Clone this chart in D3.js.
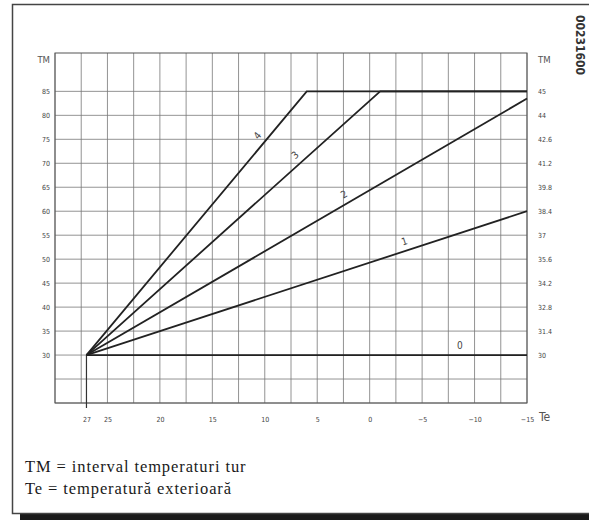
<!DOCTYPE html>
<html>
<head>
<meta charset="utf-8">
<script src="https://cdn.jsdelivr.net/npm/d3@7"></script>
<style>
  body { margin: 0; background: #fff; }
  svg { display: block; }
  .tick-lbl { font-family: "DejaVu Sans Condensed", "Liberation Sans Narrow", sans-serif; font-size: 7px; fill: #444; }
  .legend { font-family: "Liberation Serif", "DejaVu Serif", serif; font-size: 16.5px; letter-spacing: 0.9px; fill: #1a1a1a; }
</style>
</head>
<body>
<svg></svg>
<script>
const SVG = d3.select('svg').attr('width', 589).attr('height', 520);

// --- data
const TE_TICKS = [27, 25, 20, 15, 10, 5, 0, -5, -10, -15];
const TM_LEFT = [85, 80, 75, 70, 65, 60, 55, 50, 45, 40, 35, 30];
const TM_RIGHT = ['45', '44', '42.6', '41.2', '39.8', '38.4', '37', '35.6', '34.2', '32.8', '31.4', '30'];
const CURVE_NAMES = ['0', '1', '2', '3', '4'];
const CURVE_0 = [[27, 30], [-15, 30]];
const CURVE_1 = [[27, 30], [-15, 60]];
const CURVE_2 = [[27, 30], [-15, 83.5]];
const CURVE_3 = [[27, 30], [-1, 85], [-15, 85]];
const CURVE_4 = [[27, 30], [6, 85], [-15, 85]];
const CURVES = [CURVE_0, CURVE_1, CURVE_2, CURVE_3, CURVE_4];
// Te where each curve number is written
const LABEL_AT = [-8.6, -3.6, 2, 6.5, 10];

// --- frame + shadow
SVG.append('rect').attr('x', 20).attr('y', 514).attr('width', 569).attr('height', 6).attr('fill', '#1a1a1a');
SVG.append('rect').attr('x', 12.5).attr('y', 4.5).attr('width', 580).attr('height', 509)
  .attr('fill', '#fff').attr('stroke', '#444').attr('stroke-width', 1.5);

// --- scales
const x = d3.scaleLinear().domain([30, -15]).range([55, 527]);
const y = d3.scaleLinear().domain([20, 93]).range([403, 53]);

// grid
const grid = SVG.append('g').attr('stroke', '#777').attr('stroke-width', 0.8);
grid.selectAll('.vx').data(d3.range(30, -15.1, -2.5)).join('line')
  .attr('x1', d => x(d)).attr('x2', d => x(d)).attr('y1', y(20)).attr('y2', y(93));
grid.selectAll('.hy').data(d3.range(20, 85.1, 5)).join('line')
  .attr('x1', x(30)).attr('x2', x(-15)).attr('y1', d => y(d)).attr('y2', d => y(d));
SVG.append('rect').attr('x', x(30)).attr('y', y(93)).attr('width', x(-15) - x(30)).attr('height', y(20) - y(93))
  .attr('fill', 'none').attr('stroke', '#555').attr('stroke-width', 1);

// axes (ticks hidden, labels only)
const xAxis = d3.axisBottom(x).tickValues(TE_TICKS).tickSize(0).tickPadding(14).tickFormat(d => d < 0 ? '\u2212' + (-d) : d);
const xAxisG = SVG.append('g').attr('transform', `translate(0,${y(20)})`).call(xAxis);
const yLeft = d3.axisLeft(y).tickValues(TM_LEFT).tickSize(0).tickPadding(5);
const yLeftG = SVG.append('g').attr('transform', `translate(${x(30)},0)`).call(yLeft);
const yRight = d3.axisRight(y).tickValues(TM_LEFT).tickSize(0).tickPadding(11)
  .tickFormat((d, i) => TM_RIGHT[i]);
const yRightG = SVG.append('g').attr('transform', `translate(${x(-15)},0)`).call(yRight);
[xAxisG, yLeftG, yRightG].forEach(g => {
  g.select('.domain').remove();
  g.selectAll('text').attr('class', 'tick-lbl').attr('font-family', null).attr('font-size', null).attr('fill', null);
});

// marker line at 27
SVG.append('line').attr('x1', x(27)).attr('x2', x(27)).attr('y1', y(30)).attr('y2', y(20) + 5)
  .attr('stroke', '#333').attr('stroke-width', 1.2);

// axis titles
const ttl = { 'font-family': 'DejaVu Sans Condensed, sans-serif', fill: '#555' };
SVG.append('text').text('TM').attr('x', 50).attr('y', 63).attr('text-anchor', 'end').attr('font-size', 9.5)
  .attr('font-family', ttl['font-family']).attr('fill', ttl.fill);
SVG.append('text').text('TM').attr('x', 538).attr('y', 63).attr('font-size', 9.5)
  .attr('font-family', ttl['font-family']).attr('fill', ttl.fill);
SVG.append('text').text('Te').attr('x', 539).attr('y', 421).attr('font-size', 12)
  .attr('font-family', ttl['font-family']).attr('fill', ttl.fill);

// code label
SVG.append('text').text('00231600').attr('transform', 'translate(576,15) rotate(90)')
  .attr('font-family', 'DejaVu Sans Condensed, sans-serif').attr('font-weight', 'bold')
  .attr('font-size', 12).attr('fill', '#333');

// curves
const line = d3.line().x(d => x(d[0])).y(d => y(d[1]));
SVG.append('g').selectAll('path').data(CURVES).join('path')
  .attr('d', line).attr('fill', 'none').attr('stroke', '#222').attr('stroke-width', 1.8);

// curve numbers
CURVE_NAMES.forEach((name, i) => {
  const pts = CURVES[i];
  const p0 = pts[0], p1 = pts[1];
  const te = LABEL_AT[i];
  const tm = p0[1] + (p1[1] - p0[1]) * (te - p0[0]) / (p1[0] - p0[0]);
  const ang = Math.atan2(y(p1[1]) - y(p0[1]), x(p1[0]) - x(p0[0])) * 180 / Math.PI;
  SVG.append('text').text(name)
    .attr('transform', `translate(${x(te)},${y(tm)}) rotate(${ang})`)
    .attr('dy', -6).attr('text-anchor', 'middle')
    .attr('font-family', 'DejaVu Sans Condensed, sans-serif').attr('font-size', 10).attr('fill', '#444');
});

// legend
SVG.append('text').attr('class', 'legend').attr('x', 25).attr('y', 472).text('TM = interval temperaturi tur');
SVG.append('text').attr('class', 'legend').attr('x', 25).attr('y', 494).text('Te = temperatură exterioară');
</script>
</body>
</html>
